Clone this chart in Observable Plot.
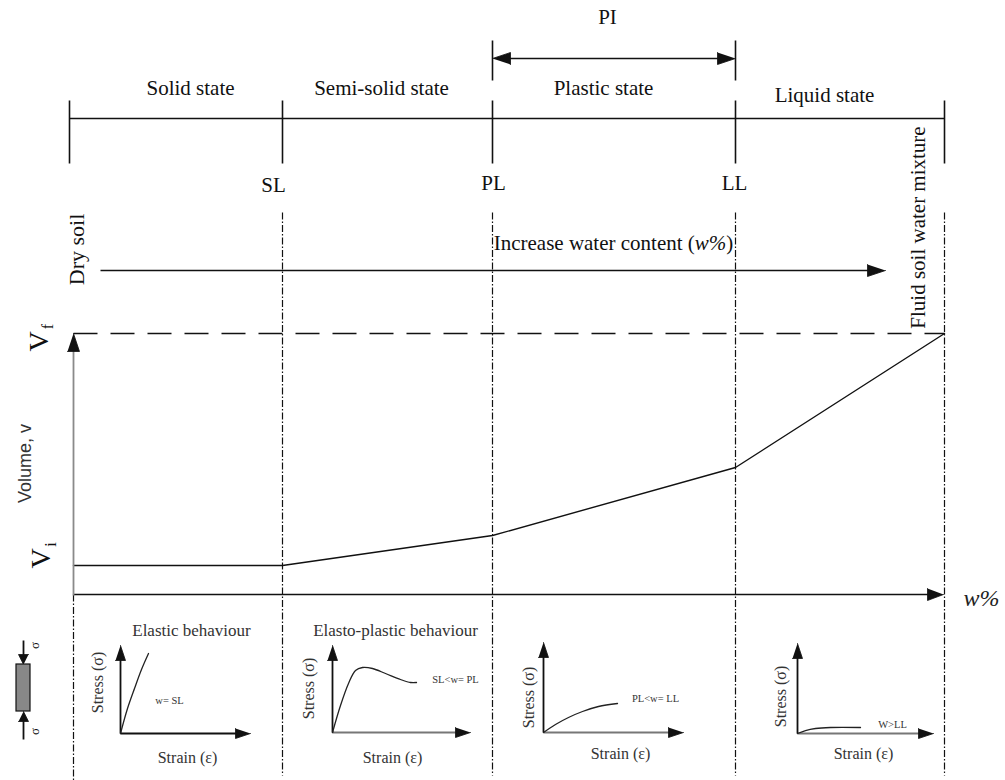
<!DOCTYPE html>
<html>
<head>
<meta charset="utf-8">
<script src="https://cdn.jsdelivr.net/npm/d3@7"></script>
<script src="https://cdn.jsdelivr.net/npm/@observablehq/plot@0.6"></script>
<style>
  body { margin: 0; background: #fff; }
  #chart svg { display: block; }
</style>
</head>
<body>
<div id="chart"></div>
<script>
// ---- Data -------------------------------------------------------------
// Consistency (Atterberg) limits along the water-content axis
const limitNames = ["SL", "PL", "LL"];
const limitW = [282, 492, 735];
const dryW = 73;      // dry soil
const fluidW = 944;   // fluid soil–water mixture

// Soil states between the limits
const stateNames = ["Solid state", "Semi-solid state", "Plastic state", "Liquid state"];

// Volume v against water content w (diagram units, volume measured downward)
const curveW = [73, 282, 492, 735, 944];
const curveV = [565, 565, 535, 467, 333];
const volumeFinal = 333;   // Vf
const volumeInitial = 565; // Vi

// Stress–strain sketches, one per state (strain right, stress up)
const panelTitles = ["Elastic behaviour", "Elasto-plastic behaviour", "", ""];
const panelConditions = ["w= SL", "SL<w= PL", "PL<w= LL", "W>LL"];
const elasticStrain = [0, 7, 14, 21, 28];
const elasticStress = [0, 25, 45, 64, 80];
const elastoStrain = [0, 8, 16, 23, 30, 40, 53, 68, 78, 84];
const elastoStress = [0, 27, 49, 62, 65, 64, 59, 53, 50, 50];
const plasticStrain = [0, 12, 25, 39, 55, 74];
const plasticStress = [0, 8, 15, 21, 26, 29];
const liquidStrain = [0, 8, 18, 33, 63];
const liquidStress = [0, 3, 5, 6, 6];

// ---- Layout -----------------------------------------------------------
const W = 1005, H = 780;
const ink = "#111";
const soft = "#333";
const serif = "Liberation Serif, Times New Roman, serif";

const barY = 118, barTick = [100, 163];
const barEnds = [69, fluidW];
const piY = 58, piTick = [40, 80];
const flowY = 270;
const axisY = 594;
const guideTop = 212, guideBottom = 775;

const panels = [
  {ox: 120, oy: 733, up: 88, right: 130, strain: elasticStrain, stress: elasticStress, hColor: ink},
  {ox: 332, oy: 732, up: 87, right: 138, strain: elastoStrain, stress: elastoStress, hColor: "#777"},
  {ox: 543, oy: 732, up: 90, right: 140, strain: plasticStrain, stress: plasticStress, hColor: "#777"},
  {ox: 797, oy: 733, up: 90, right: 136, strain: liquidStrain, stress: liquidStress, hColor: "#777"}
];

// ---- Geometry helpers ------------------------------------------------
function headPoints(id, x1, y1, x2, y2, len, half) {
  const dx = x2 - x1, dy = y2 - y1, L = Math.hypot(dx, dy);
  const ux = dx / L, uy = dy / L;
  const bx = x2 - ux * len, by = y2 - uy * len;
  return [
    {id, x: x2, y: y2},
    {id, x: bx - uy * half, y: by + ux * half},
    {id, x: bx + uy * half, y: by - ux * half}
  ];
}

// Arrows: shaft + filled head(s)
const arrows = [
  {x1: limitW[1], y1: piY, x2: limitW[2], y2: piY, len: 18, half: 6, both: true, color: ink},
  {x1: 100, y1: flowY, x2: 885, y2: flowY, len: 18, half: 6, color: ink},
  {x1: dryW, y1: axisY + 1, x2: dryW, y2: volumeFinal, len: 18, half: 6, color: "#8a8a8a"},
  {x1: dryW, y1: axisY, x2: 943, y2: axisY, len: 16, half: 6, color: ink},
  {x1: 23, y1: 640, x2: 23, y2: 664, len: 10, half: 5, color: ink, w: 1.3},
  {x1: 23, y1: 739, x2: 23, y2: 711, len: 10, half: 5, color: ink, w: 1.3}
];
panels.forEach(p => {
  arrows.push({x1: p.ox, y1: p.oy, x2: p.ox, y2: p.oy - p.up, len: 15, half: 5, color: ink, w: 2});
  arrows.push({x1: p.ox, y1: p.oy, x2: p.ox + p.right, y2: p.oy, len: 15, half: 5, color: p.hColor, w: 2});
});

const heads = [];
arrows.forEach((a, i) => {
  heads.push(...headPoints("h" + i, a.x1, a.y1, a.x2, a.y2, a.len, a.half));
  if (a.both) heads.push(...headPoints("t" + i, a.x2, a.y2, a.x1, a.y1, a.len, a.half));
});
const shafts = arrows.map(a => {
  const L = Math.hypot(a.x2 - a.x1, a.y2 - a.y1);
  const ux = (a.x2 - a.x1) / L, uy = (a.y2 - a.y1) / L;
  const cut = a.len * 0.8;
  return {
    x1: a.both ? a.x1 + ux * cut : a.x1, y1: a.both ? a.y1 + uy * cut : a.y1,
    x2: a.x2 - ux * cut, y2: a.y2 - uy * cut, color: a.color, w: a.w ?? 1.6
  };
});

// Consistency bar: baseline + boundary ticks + PI ticks
const bounds = [barEnds[0], ...limitW, barEnds[1]];
const barSegs = [
  {x1: barEnds[0], y1: barY, x2: barEnds[1], y2: barY},
  ...bounds.map(x => ({x1: x, y1: barTick[0], x2: x, y2: barTick[1]})),
  {x1: limitW[1], y1: piTick[0], x2: limitW[1], y2: piTick[1]},
  {x1: limitW[2], y1: piTick[0], x2: limitW[2], y2: piTick[1]}
];

// Vertical guide lines at the limits
const guides = [
  ...[...limitW, fluidW].map(x => ({x1: x, y1: guideTop, x2: x, y2: guideBottom})),
  {x1: dryW, y1: axisY, x2: dryW, y2: H}
];

const volumeCurve = curveW.map((w, i) => ({w, v: curveV[i]}));

const miniCurves = panels.flatMap((p, k) =>
  p.strain.map((s, i) => ({k, x: p.ox + s, y: p.oy - p.stress[i]})));

// Text
const mainText = [
  {t: "PI", x: 607, y: 17},
  {t: stateNames[0], x: 190, y: 88},
  {t: stateNames[1], x: 381, y: 88},
  {t: stateNames[2], x: 603, y: 88},
  {t: stateNames[3], x: 824, y: 95},
  {t: limitNames[0], x: 273, y: 185},
  {t: limitNames[1], x: 493, y: 183},
  {t: limitNames[2], x: 734, y: 183},
  {t: "Increase water content (w%)", x: 613, y: 243}
];
const rotText = [
  {t: "Dry soil", x: 76, y: 249, s: 22},
  {t: "Fluid soil water mixture", x: 918, y: 227, s: 21},
  {t: "V", x: 39, y: 341, s: 28},
  {t: "f", x: 47, y: 326, s: 16},
  {t: "V", x: 41, y: 558, s: 28},
  {t: "i", x: 50, y: 544, s: 16},
  {t: "\u03c3", x: 34, y: 645, s: 13},
  {t: "\u03c3", x: 34, y: 731, s: 13}
];
const panelTitlePos = [[191, 630], [395, 630]];
const strainPos = [[187, 757], [392, 757], [620, 753], [863, 753]];
const stressPos = [[97, 682], [308, 688], [528, 697], [780, 696]];
const condPos = [[169, 700], [455, 679], [655, 698], [892, 724]];

const miniText = [
  ...panelTitles.filter(d => d).map((t, i) => ({t, x: panelTitlePos[i][0], y: panelTitlePos[i][1], s: 17, r: 0})),
  ...strainPos.map(([x, y]) => ({t: "Strain (\u03b5)", x, y, s: 16, r: 0})),
  ...stressPos.map(([x, y]) => ({t: "Stress (\u03c3)", x, y, s: 16, r: -90})),
  ...panelConditions.map((t, i) => ({t, x: condPos[i][0], y: condPos[i][1], s: 10.5, r: 0}))
];

// Specimen under axial load
const specimen = [{x1: 16, x2: 30, y1: 664, y2: 711}];

// ---- Plot -------------------------------------------------------------
const chart = Plot.plot({
  width: W,
  height: H,
  margin: 0,
  x: {domain: [0, W], range: [0, W], axis: null},
  y: {domain: [0, H], range: [0, H], axis: null},
  style: {fontFamily: serif, background: "#fff"},
  marks: [
    // limit guides (dash-dot)
    Plot.link(guides, {x1: "x1", y1: "y1", x2: "x2", y2: "y2", stroke: ink, strokeWidth: 1.2, strokeDasharray: "7,2,1.5,2"}),
    // Vf level (long dashes)
    Plot.link([{x1: dryW, y1: volumeFinal, x2: fluidW, y2: volumeFinal}],
      {x1: "x1", y1: "y1", x2: "x2", y2: "y2", stroke: ink, strokeWidth: 1.5, strokeDasharray: "24,13"}),
    // consistency bar
    Plot.link(barSegs, {x1: "x1", y1: "y1", x2: "x2", y2: "y2", stroke: ink, strokeWidth: 1.6}),
    // Vi level + volume curve
    Plot.line(volumeCurve, {x: "w", y: "v", stroke: ink, strokeWidth: 1.4}),
    // arrow shafts
    Plot.link(shafts.filter(d => d.color === ink && d.w === 1.6), {x1: "x1", y1: "y1", x2: "x2", y2: "y2", stroke: ink, strokeWidth: 1.6}),
    Plot.link(shafts.filter(d => d.color !== ink), {x1: "x1", y1: "y1", x2: "x2", y2: "y2", stroke: d => d.color, strokeWidth: 1.8}),
    Plot.link(shafts.filter(d => d.color === ink && d.w !== 1.6), {x1: "x1", y1: "y1", x2: "x2", y2: "y2", stroke: ink, strokeWidth: 1.8}),
    // arrow heads
    Plot.line(heads, {x: "x", y: "y", z: "id", fill: ink, stroke: ink, strokeWidth: 0.8}),
    // stress–strain sketches
    Plot.line(miniCurves, {x: "x", y: "y", z: "k", stroke: "#222", strokeWidth: 1.3, curve: "catmull-rom"}),
    // specimen
    Plot.rect(specimen, {x1: "x1", x2: "x2", y1: "y1", y2: "y2", fill: "#888", stroke: ink, strokeWidth: 1.2}),
    // labels
    Plot.text(mainText, {x: "x", y: "y", text: "t", fontSize: 21, fill: ink}),
    Plot.text(rotText, {x: "x", y: "y", text: "t", fontSize: "s", rotate: -90, fill: ink}),
    Plot.text(miniText, {x: "x", y: "y", text: "t", fontSize: "s", rotate: "r", fill: soft}),
    Plot.text([{t: "Volume, v", x: 25, y: 463}], {x: "x", y: "y", text: "t", rotate: -90, fontSize: 18,
      fontFamily: "Liberation Sans, Arial, sans-serif", fill: "#333"}),
    Plot.text([{t: "w%", x: 981, y: 598}], {x: "x", y: "y", text: "t", fontSize: 24, fontStyle: "italic", fill: "#222"})
  ]
});

// italic w inside the water-content label
chart.querySelectorAll("text").forEach(el => {
  if (el.textContent === "Increase water content (w%)") {
    el.innerHTML = 'Increase water content (<tspan font-style="italic">w%</tspan>)';
  }
});

document.getElementById("chart").appendChild(chart);
</script>
</body>
</html>
